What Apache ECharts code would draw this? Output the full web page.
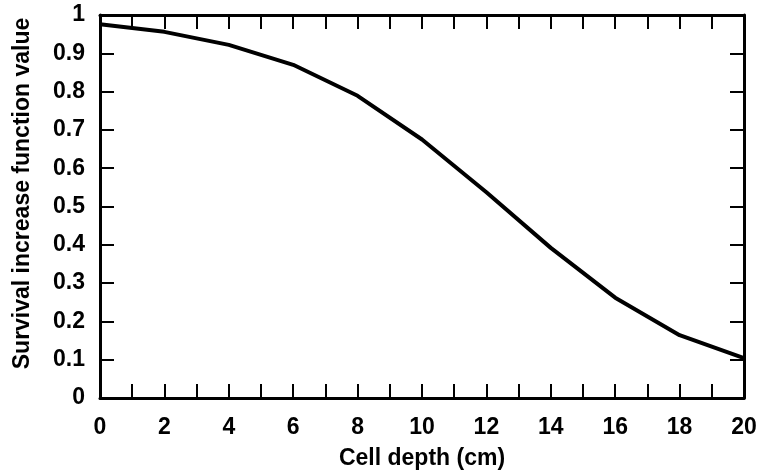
<!DOCTYPE html>
<html><head><meta charset="utf-8">
<script src="https://cdn.jsdelivr.net/npm/echarts@6/dist/echarts.min.js"></script>
<style>html,body{margin:0;padding:0;background:#fff}#c{width:761px;height:472px}</style>
</head><body><div id="c"></div>
<script>
const depth = [0, 2, 4, 6, 8, 10, 12, 14, 16, 18, 20];
const survival = [0.976, 0.956, 0.922, 0.870, 0.789, 0.675, 0.537, 0.392, 0.262, 0.164, 0.104];
const xTitle = 'Cell depth (cm)';
const yTitle = 'Survival increase function value';

const font = 'Liberation Sans, Arial, sans-serif';
const chart = echarts.init(document.getElementById('c'));
const axLine = {show: true, onZero: false, lineStyle: {color: '#000', width: 3}};
const tick = {show: true, inside: true, length: 14, lineStyle: {color: '#000', width: 2}};
chart.setOption({
  animation: false,
  grid: {left: 100, right: 17, top: 15, bottom: 74, containLabel: false, outerBoundsMode: 'none'},
  xAxis: [{
    type: 'value', min: 0, max: 20, interval: 1, position: 'bottom',
    axisLine: axLine, axisTick: tick, splitLine: {show: false},
    axisLabel: {color: '#000', fontFamily: font, fontWeight: 'bold', fontSize: 23, margin: 18,
      formatter: v => (v % 2 === 0 ? String(v) : '')},
    name: xTitle, nameLocation: 'middle', nameGap: 49,
    nameTextStyle: {color: '#000', fontFamily: font, fontWeight: 'bold', fontSize: 23}
  }, {
    type: 'value', min: 0, max: 20, interval: 1, position: 'top',
    axisLine: axLine, axisTick: tick, splitLine: {show: false}, axisLabel: {show: false}
  }],
  yAxis: [{
    type: 'value', min: 0, max: 1, interval: 0.1, position: 'left',
    axisLine: axLine, axisTick: tick, splitLine: {show: false},
    axisLabel: {color: '#000', fontFamily: font, fontWeight: 'bold', fontSize: 23, margin: 15,
      formatter: v => String(Math.round(v * 10) / 10)},
    name: yTitle, nameLocation: 'middle', nameGap: 66,
    nameTextStyle: {color: '#000', fontFamily: font, fontWeight: 'bold', fontSize: 23, padding: [0, 0, 0, 26]}
  }, {
    type: 'value', min: 0, max: 1, interval: 0.1, position: 'right',
    axisLine: axLine, axisTick: tick, splitLine: {show: false}, axisLabel: {show: false}
  }],
  series: [{
    type: 'line', symbol: 'none', xAxisIndex: 0, yAxisIndex: 0,
    data: depth.map((d, i) => [d, survival[i]]),
    lineStyle: {color: '#000', width: 4}
  }]
});
</script></body></html>
